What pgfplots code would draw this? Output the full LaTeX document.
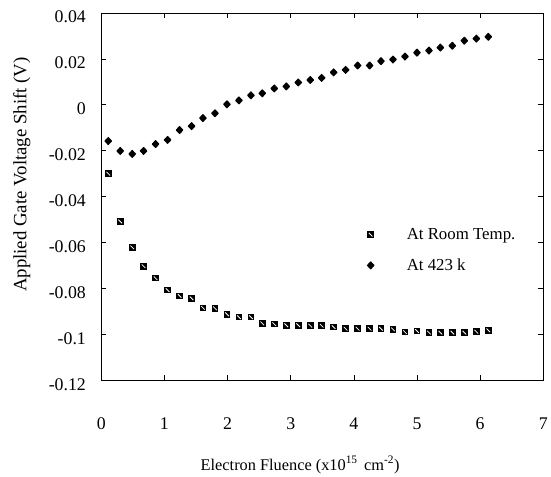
\documentclass[border=0pt]{standalone}
\usepackage{fontspec}
\setmainfont{Liberation Serif}
\usepackage{pgfplots}
\pgfplotsset{compat=1.18}
\pgfdeclareplotmark{hsq}{%
  \pgfpathrectangle{\pgfpoint{-\pgfplotmarksize}{-\pgfplotmarksize}}{\pgfpoint{2\pgfplotmarksize}{2\pgfplotmarksize}}%
  \pgfusepathqfill
  \pgfsetstrokecolor{white}\pgfsetlinewidth{0.8pt}%
  \pgfpathmoveto{\pgfpoint{-0.55\pgfplotmarksize}{0.55\pgfplotmarksize}}%
  \pgfpathlineto{\pgfpoint{0.55\pgfplotmarksize}{-0.55\pgfplotmarksize}}%
  \pgfusepathqstroke
}
\pgfdeclareplotmark{fatdiamond}{%
  \pgfpathmoveto{\pgfpoint{0pt}{\pgfplotmarksize}}%
  \pgfpathlineto{\pgfpoint{0.95\pgfplotmarksize}{0pt}}%
  \pgfpathlineto{\pgfpoint{0pt}{-\pgfplotmarksize}}%
  \pgfpathlineto{\pgfpoint{-0.95\pgfplotmarksize}{0pt}}%
  \pgfpathclose
  \pgfsetroundjoin\pgfsetlinewidth{1.2pt}%
  \pgfusepathqfillstroke
}
\newcommand{\fs}{\fontsize{18}{21}\selectfont}
\begin{document}
\begin{tikzpicture}
\begin{axis}[
  scale only axis, width=445bp, height=370bp,
  xmin=0, xmax=7, ymin=-0.12, ymax=0.04,
  axis line style={line width=0.8pt},
  tick align=inside, major tick length=5bp,
  tick style={black, line width=0.6pt},
  xtick={0,1,2,3,4,5,6,7},
  xticklabels={0,1,2,3,4,5,6,7},
  ytick={-0.12,-0.1,-0.08,-0.06,-0.04,-0.02,0,0.02,0.04},
  yticklabels={-0.12,-0.1,-0.08,-0.06,-0.04,-0.02,0,0.02,0.04},
  ticklabel style={font=\fs},
  xticklabel style={yshift=-34bp},
  yticklabel style={xshift=-12bp, yshift=-4bp},
  xlabel={Electron Fluence (x10\textsuperscript{15}\hspace{0.4em}cm\textsuperscript{-2})},
  ylabel={Applied Gate Voltage Shift (V)},
  xlabel style={font=\fontsize{16.5}{19}\selectfont, at={(axis description cs:0.45,-0.23)}, anchor=center},
  ylabel style={font=\fontsize{19}{22}\selectfont, at={(axis description cs:-0.18,0.56)}, anchor=center},
  legend style={draw=none, fill=none, at={(axis description cs:0.595,0.425)}, anchor=north west,
    font=\fontsize{17}{20}\selectfont, row sep=14bp, column sep=31bp},
  legend cell align=left,
]
\addplot[only marks, mark=hsq, mark size=3.3bp, black] coordinates {
(0.11,-0.030) (0.30,-0.0508) (0.49,-0.0621) (0.67,-0.0703) (0.86,-0.0755)
(1.05,-0.0807) (1.24,-0.0832) (1.43,-0.0843) (1.61,-0.0884) (1.80,-0.0886)
(1.99,-0.0912) (2.18,-0.0925) (2.37,-0.0925) (2.55,-0.0952) (2.74,-0.0955)
(2.93,-0.0960) (3.12,-0.0960) (3.31,-0.0962) (3.49,-0.0962) (3.68,-0.0968)
(3.87,-0.0975) (4.06,-0.0975) (4.25,-0.0975) (4.43,-0.0975) (4.62,-0.0978)
(4.81,-0.0990) (5.00,-0.0985) (5.19,-0.0992) (5.37,-0.0992) (5.56,-0.0992)
(5.75,-0.0992) (5.94,-0.0988) (6.13,-0.0982)
};
\addlegendentry{At Room Temp.}
\addplot[only marks, mark=fatdiamond, mark size=3.4bp, black] coordinates {
(0.11,-0.0158) (0.30,-0.0201) (0.49,-0.0214) (0.67,-0.0201) (0.86,-0.0171)
(1.05,-0.0153) (1.24,-0.0110) (1.43,-0.0093) (1.61,-0.0058) (1.80,-0.0037)
(1.99,0.0002) (2.18,0.0019) (2.37,0.0041) (2.55,0.0050) (2.74,0.0071)
(2.93,0.0080) (3.12,0.0097) (3.31,0.0108) (3.49,0.0117) (3.68,0.0141)
(3.87,0.0152) (4.06,0.0171) (4.25,0.0171) (4.43,0.0190) (4.62,0.0197)
(4.81,0.0210) (5.00,0.0227) (5.19,0.0236) (5.37,0.0249) (5.56,0.0257)
(5.75,0.0279) (5.94,0.0288) (6.13,0.0296)
};
\addlegendentry{At 423 k}
\end{axis}
\path ([shift={(-102bp,-95bp)}]current axis.south west) rectangle ([shift={(4bp,13bp)}]current axis.north east);
\end{tikzpicture}
\end{document}
